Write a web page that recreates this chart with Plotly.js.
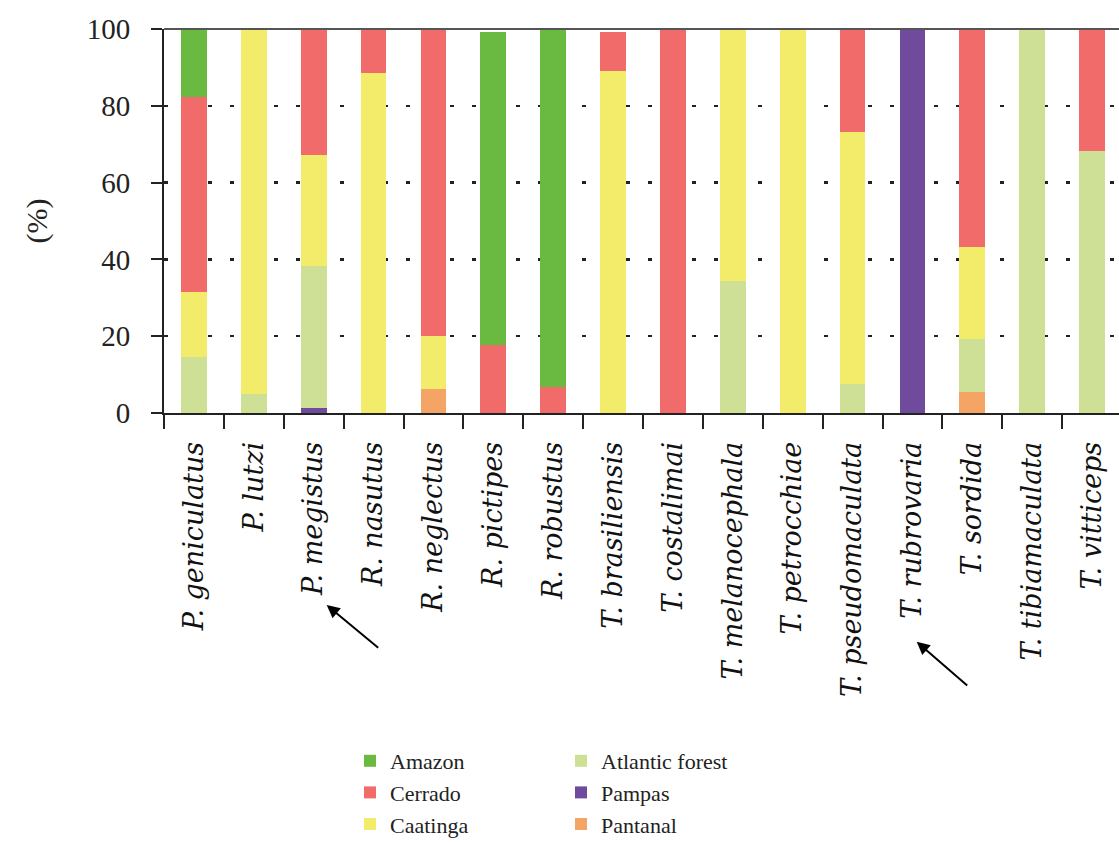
<!DOCTYPE html>
<html>
<head>
<meta charset="utf-8">
<script src="https://cdn.plot.ly/plotly-3.0.1.min.js"></script>
<style>html,body{margin:0;padding:0;background:#fff;}#chart{width:1119px;height:844px;}</style>
</head>
<body>
<div id="chart"></div>
<script>
const species = ["P. geniculatus","P. lutzi","P. megistus","R. nasutus","R. neglectus","R. pictipes","R. robustus","T. brasiliensis","T. costalimai","T. melanocephala","T. petrocchiae","T. pseudomaculata","T. rubrovaria","T. sordida","T. tibiamaculata","T. vitticeps"];
const pantanal = [0,0,0,0,6.3,0,0,0,0,0,0,0,0,5.6,0,0];
const pampas   = [0,0,1.3,0,0,0,0,0,0,0,0,0,100,0,0,0];
const atlantic = [14.5,5,37.1,0,0,0,0,0,0,34.5,0,7.5,0,13.8,100,68.3];
const caatinga = [17,95,28.8,88.5,13.8,0,0,89.1,0,65.5,100,65.8,0,23.9,0,0];
const cerrado  = [50.8,0,32.8,11.5,79.9,17.6,6.9,10.1,100,0,0,26.7,0,56.7,0,31.7];
const amazon   = [17.7,0,0,0,0,81.6,93.1,0,0,0,0,0,0,0,0,0];
const yTicks = [0,20,40,60,80,100];

function bar(name, vals, color, legend, rank){
  return {type:'bar', name:name, x:species, y:vals, width:0.43,
    marker:{color:color, line:{width:0}}, legend:legend, legendrank:rank, hoverinfo:'skip'};
}
const data = [
  bar('Pantanal', pantanal, '#f4a566', 'legend2', 3),
  bar('Pampas', pampas, '#6f4a9d', 'legend2', 2),
  bar('Atlantic forest', atlantic, '#cee096', 'legend2', 1),
  bar('Caatinga', caatinga, '#f2ec6a', 'legend', 3),
  bar('Cerrado', cerrado, '#f16b6b', 'legend', 2),
  bar('Amazon', amazon, '#6aba42', 'legend', 1)
];
const legFont = {family:'Liberation Serif, serif', size:22, color:'#222'};
const layout = {
  width:1119, height:844,
  margin:{l:164, r:0, t:29, b:431},
  paper_bgcolor:'#fff', plot_bgcolor:'#fff',
  barmode:'stack',
  showlegend:true,
  legend:{xref:'paper', yref:'container', x:(350-164)/955, y:1-740/844, xanchor:'left', yanchor:'top',
    orientation:'v', font:legFont, bgcolor:'rgba(0,0,0,0)', traceorder:'normal', itemclick:false},
  legend2:{xref:'paper', yref:'container', x:(561-164)/955, y:1-740/844, xanchor:'left', yanchor:'top',
    orientation:'v', font:legFont, bgcolor:'rgba(0,0,0,0)', traceorder:'normal', itemclick:false},
  xaxis:{type:'category', range:[-0.5, 15.45], showgrid:false, zeroline:false, automargin:false,
    showline:true, linecolor:'#222', linewidth:2, mirror:false,
    ticks:'outside', tickson:'boundaries', ticklen:14, tickwidth:2, tickcolor:'#222',
    tickangle:-90, ticklabelstandoff:16,
    tickfont:{family:'DejaVu Serif, serif', style:'italic', size:27, color:'#111'}},
  yaxis:{range:[0,100], tickvals:yTicks, ticktext:yTicks.map(String), automargin:false,
    showline:true, linecolor:'#222', linewidth:2, zeroline:false,
    ticks:'outside', ticklen:11, tickwidth:2, tickcolor:'#222', ticklabelstandoff:15,
    showgrid:true, gridcolor:'#222', gridwidth:2.5, griddash:'4px,18px',
    tickfont:{family:'Liberation Serif, serif', size:29, color:'#222'},
    title:{text:'(%)', font:{family:'Liberation Serif, serif', size:30, color:'#222'}, standoff:30}},
  shapes:[{type:'line', xref:'paper', yref:'paper', x0:0, x1:1, y0:1, y1:1, line:{color:'#555', width:2}}],
  annotations:[
    {xref:'paper', yref:'paper', x:(326.7-164)/955, y:(413-605)/384, text:'', showarrow:true,
      arrowhead:2, arrowsize:1.3, arrowwidth:2, arrowcolor:'#000', ax:53, ay:44},
    {xref:'paper', yref:'paper', x:(916.7-164)/955, y:(413-641.7)/384, text:'', showarrow:true,
      arrowhead:2, arrowsize:1.3, arrowwidth:2, arrowcolor:'#000', ax:52, ay:45}
  ]
};
Plotly.newPlot('chart', data, layout, {staticPlot:true, displayModeBar:false});
</script>
</body>
</html>
